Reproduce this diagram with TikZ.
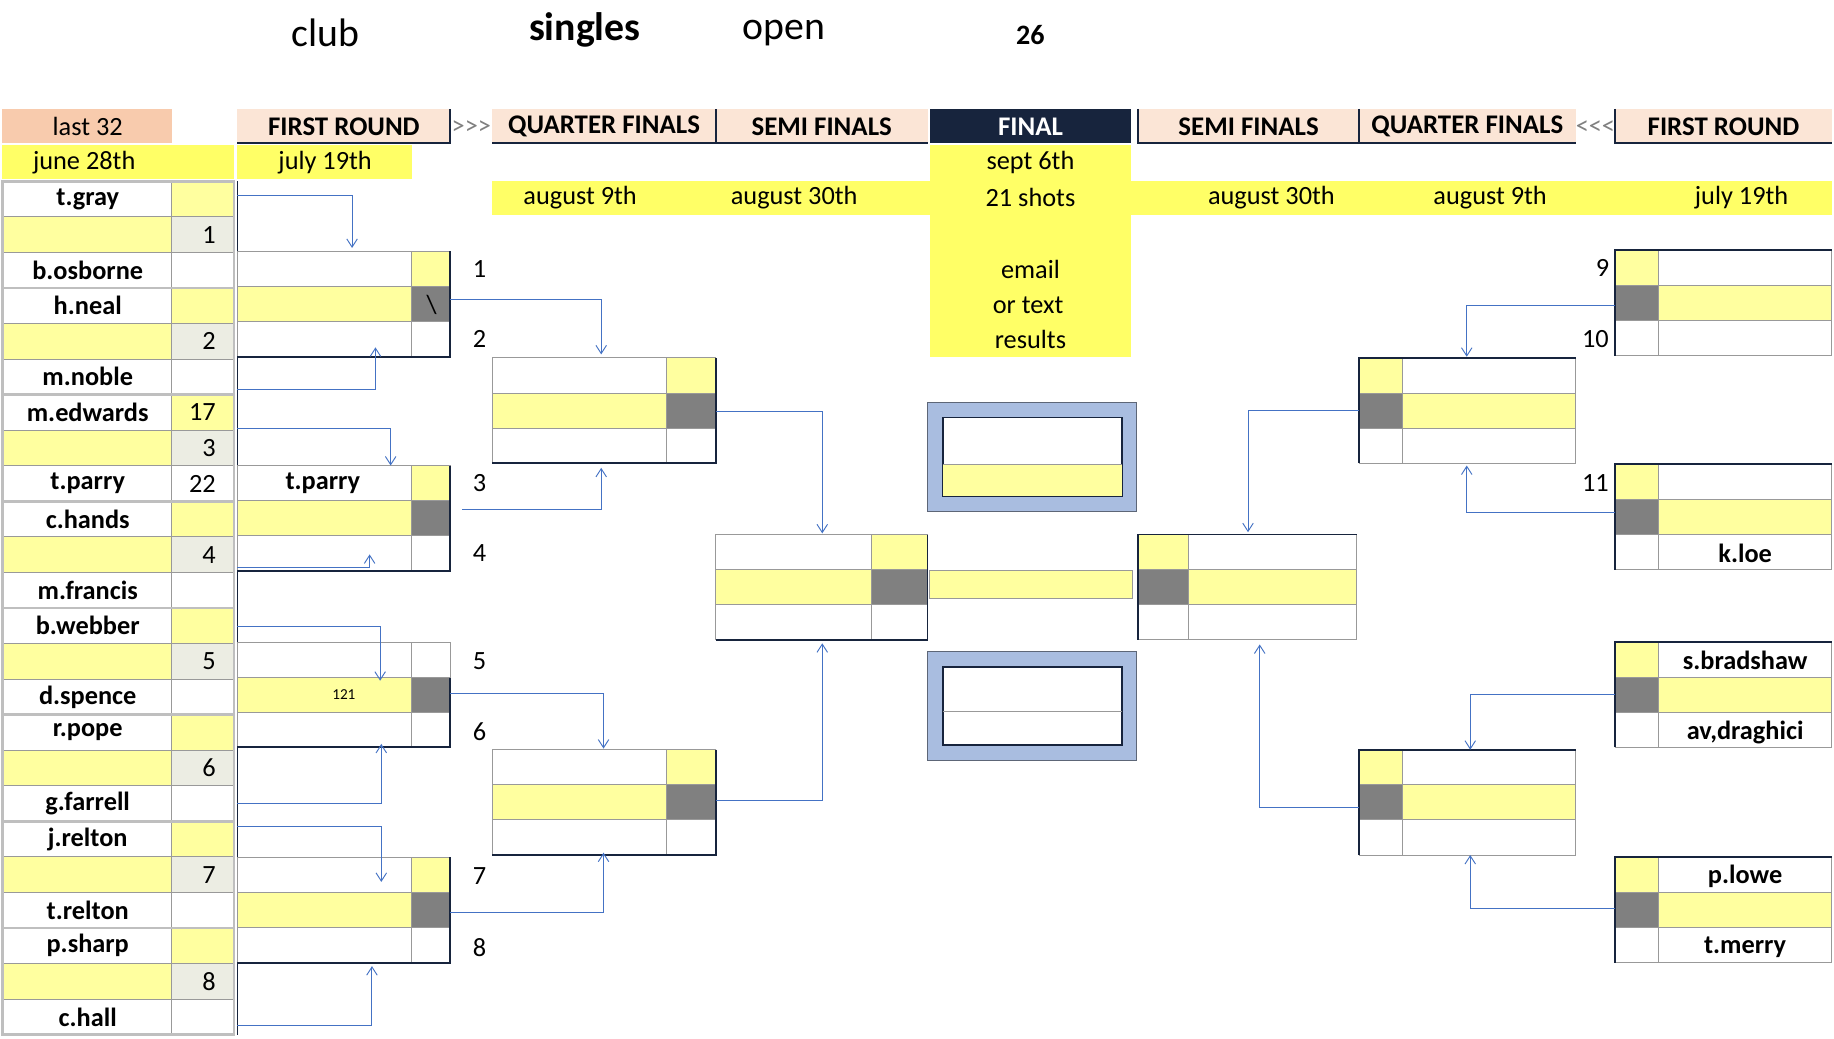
\documentclass[tikz,border=0pt]{standalone}
\usepackage{fontspec}
\setmainfont{Carlito}
\usetikzlibrary{arrows.meta}
\definecolor{ly}{HTML}{FFFF9F}
\definecolor{by}{HTML}{FFFF66}
\definecolor{dg}{HTML}{808080}
\definecolor{pe}{HTML}{F8CBAD}
\definecolor{hp}{HTML}{FBE5D6}
\definecolor{nv}{HTML}{17243D}
\definecolor{cn}{HTML}{4472C4}
\definecolor{lg}{HTML}{ECEDE3}
\definecolor{gb}{HTML}{BFBFBF}
\definecolor{fb}{HTML}{A9BDE0}
\tikzset{
 cell/.style={draw=gray!80,line width=0.8pt},
 grp/.style={draw=gb,line width=2.2pt},
 hdr/.style={font=\fontsize{23}{26}\selectfont\bfseries},
 nm/.style={font=\fontsize{22.5}{26}\selectfont\bfseries},
 tx/.style={font=\fontsize{22.5}{26}\selectfont},
 conn/.style={draw=cn,line width=0.8pt,-{Straight Barb[length=7pt,width=9pt,line width=0.8pt]}},
}
\newcommand\bxL[4]{%
 \fill[white] (#1,#4) rectangle (#3,#4+90);
 \fill[ly] (#2,#4) rectangle (#3,#4+30);
 \fill[ly] (#1,#4+30) rectangle (#2,#4+60);
 \fill[dg] (#2,#4+30) rectangle (#3,#4+60);
 \draw[cell] (#1,#4) rectangle (#3,#4+90) (#1,#4+30)--(#3,#4+30) (#1,#4+60)--(#3,#4+60) (#2,#4)--(#2,#4+90);
 \draw[nv,line width=1.6pt] (#3,#4)--(#3,#4+90)--(#1,#4+90);}
\newcommand\bxR[4]{%
 \fill[white] (#1,#4) rectangle (#3,#4+90);
 \fill[ly] (#1,#4) rectangle (#2,#4+30);
 \fill[dg] (#1,#4+30) rectangle (#2,#4+60);
 \fill[ly] (#2,#4+30) rectangle (#3,#4+60);
 \draw[cell] (#1,#4) rectangle (#3,#4+90) (#1,#4+30)--(#3,#4+30) (#1,#4+60)--(#3,#4+60) (#2,#4)--(#2,#4+90);
 \draw[nv,line width=1.6pt] (#1,#4+90)--(#1,#4)--(#3,#4);}
\begin{document}
\begin{tikzpicture}[x=1pt,y=-1pt]
\useasboundingbox[fill=white] (0,0) rectangle (1568,887.5);
\node[font=\fontsize{34}{38}\selectfont] (t1) at (278,28) {club};
\node[font=\fontsize{34}{38}\selectfont\bfseries] (t2) at (500,26) {singles};
\node[font=\fontsize{34}{38}\selectfont] (t3) at (670,28) {open};
\node[font=\fontsize{24}{28}\selectfont\bfseries] (t4) at (881,30) {26};
\fill[pe] (2,93) rectangle (147,122);
\node[tx] (h0) at (75,108) {last 32};
\foreach \a/\b/\t/\n in {203/385/FIRST ROUND/h1,421/612/QUARTER FINALS/h2,612/793/SEMI FINALS/h3,973/1162/SEMI FINALS/h5,1162/1347/QUARTER FINALS/h6,1381/1566/FIRST ROUND/h7}{
 \fill[hp] (\a,93) rectangle (\b,122);
 \node[hdr] (\n) at ({(\a+\b)/2},108) {\t};}
\draw[nv,line width=1.6pt] (203,122)--(385,122)--(385,93);
\draw[nv,line width=1.6pt] (421,122)--(612,122)--(612,93) (612,122)--(793,122);
\draw[nv,line width=1.6pt] (973,93)--(973,122)--(1162,122)--(1347,122) (1162,93)--(1162,122);
\draw[nv,line width=1.6pt] (1381,93)--(1381,122)--(1566,122);
\node[tx,text=gray] (ar1) at (403,109) {>{}>{}>};
\node[tx,text=gray] (ar2) at (1364,109) {<{}<{}<};
\fill[nv] (795,93) rectangle (967,122);
\node[hdr,text=white] (h4) at (881,108) {FINAL};
\fill[by] (2,124) rectangle (200,153);
\fill[by] (203,124) rectangle (352,153);
\node[tx] (d1) at (72,139) {june 28th};
\node[tx] (d2) at (278,139) {july 19th};
\fill[by] (421,155) rectangle (1566,184);
\fill[by] (795,124) rectangle (967,305);
\node[tx] (d3) at (496,169) {august 9th};
\node[tx] (d4) at (679,169) {august 30th};
\node[tx] (d5) at (881,139) {sept 6th};
\node[tx] (d6) at (881,169) {21 shots};
\node[tx] (d7) at (1087,169) {august 30th};
\node[tx] (d8) at (1274,169) {august 9th};
\node[tx] (d9) at (1489,169) {july 19th};
\node[tx] (e1) at (881,230) {email};
\node[tx] (e2) at (879,261) {or text};
\node[tx] (e3) at (881,290) {results};
\foreach \i/\nmv/\num in {0/t.gray/,1//1,2/b.osborne/,3/h.neal/,4//2,5/m.noble/,6/m.edwards/17,7//3,8/t.parry/22,9/c.hands/,10//4,11/m.francis/,12/b.webber/,13//5,14/d.spence/,15/r.pope/,16//6,17/g.farrell/,18/j.relton/,19//7,20/t.relton/,21/p.sharp/,22//8,23/c.hall/}{
 \pgfmathsetmacro\y{155+30.4*\i}
 \pgfmathtruncatemacro\m{mod(\i,3)}
 \ifnum\m=1 \fill[ly] (2,\y) rectangle (147,\y+30.4); \fill[lg] (147,\y) rectangle (200,\y+30.4);\fi
 \ifnum\m=0 \fill[ly] (147,\y) rectangle (200,\y+30.4);\fi
 \draw[cell] (2,\y) rectangle (147,\y+30.4) (147,\y) rectangle (200,\y+30.4);
 \node[nm] (n\i) at (75,\y+15.2) {\nmv};
 \node[tx,anchor=east] (s\i) at (188,\y+15.2) {\num};
}
\foreach \g in {0,...,7}{\draw[grp] (2,155+91.2*\g) rectangle (200,155+91.2*\g+91.2);}
\draw[nv,line width=1.6pt] (203,155)--(203,885);
\bxL{203}{352}{385}{215}
\bxL{203}{352}{385}{398}
\bxL{203}{352}{385}{549}
\bxL{203}{352}{385}{733}
\fill[white] (352,549) rectangle (385,579); \draw[cell] (352,549) rectangle (385,579);
\node[nm] (p1) at (276,413) {t.parry};
\node[tx] (bs) at (369,261) {\textbackslash};
\node[font=\fontsize{13}{15}\selectfont] (x121) at (294,594) {121};
\foreach \t/\yy in {1/230,2/290,3/413,4/473,5/565,6/626,7/749,8/810}{\node[tx] (r\t) at (410,\yy) {\t};}
\bxL{421}{570}{612}{306}
\bxL{421}{570}{612}{641}
\bxL{612}{745}{793}{457}
\foreach \yy in {344,557}{
 \fill[fb] (793,\yy) rectangle (972,\yy+93);
 \draw[nv!70,line width=1pt] (793,\yy) rectangle (972,\yy+93);
 \fill[white] (806,\yy+13) rectangle (959,\yy+80);
 \draw[nv,line width=1.4pt] (806,\yy+13) rectangle (959,\yy+80);}
\fill[ly] (806,397) rectangle (959,424);
\draw[cell] (806,397)--(959,397);
\draw[cell] (806,608)--(959,608);
\fill[ly] (795,488) rectangle (968,512);
\draw[cell] (795,488) rectangle (968,512);
\bxR{973}{1016}{1160}{457}
\bxR{1162}{1199}{1347}{306}
\bxR{1162}{1199}{1347}{641}
\bxR{1381}{1418}{1566}{214}
\bxR{1381}{1418}{1566}{397}
\bxR{1381}{1418}{1566}{549}
\bxR{1381}{1418}{1566}{733}
\node[nm] (k1) at (1492,473) {k.loe};
\node[nm] (k2) at (1492,565) {s.bradshaw};
\node[nm] (k3) at (1492,626) {av,draghici};
\node[nm] (k4) at (1492,749) {p.lowe};
\node[nm] (k5) at (1492,810) {t.merry};
\node[tx] (r9) at (1370,229) {9};
\node[tx] (r10) at (1364,290) {10};
\node[tx] (r11) at (1364,413) {11};
\draw[conn] (203,167)-|(301,212);
\draw[conn] (203,333)-|(321,297);
\draw[conn] (203,366)-|(334,398);
\draw[conn] (203,485)-|(316,474);
\draw[conn] (203,536)-|(325,582);
\draw[conn] (203,687)-|(326,636);
\draw[conn] (203,707)-|(326,754);
\draw[conn] (203,877)-|(318,826);
\draw[conn] (385,256)-|(514,303);
\draw[conn] (395,436)-|(514,400);
\draw[conn] (385,593)-|(516,640);
\draw[conn] (385,780)-|(516,729);
\draw[conn] (612,352)-|(703,456);
\draw[conn] (612,684)-|(703,550);
\draw[conn] (1381,261)-|(1254,305);
\draw[conn] (1381,438)-|(1254,398);
\draw[conn] (1162,351)-|(1067,455);
\draw[conn] (1162,690)-|(1077,551);
\draw[conn] (1381,594)-|(1257,641);
\draw[conn] (1381,777)-|(1257,731);
\end{tikzpicture}
\end{document}
